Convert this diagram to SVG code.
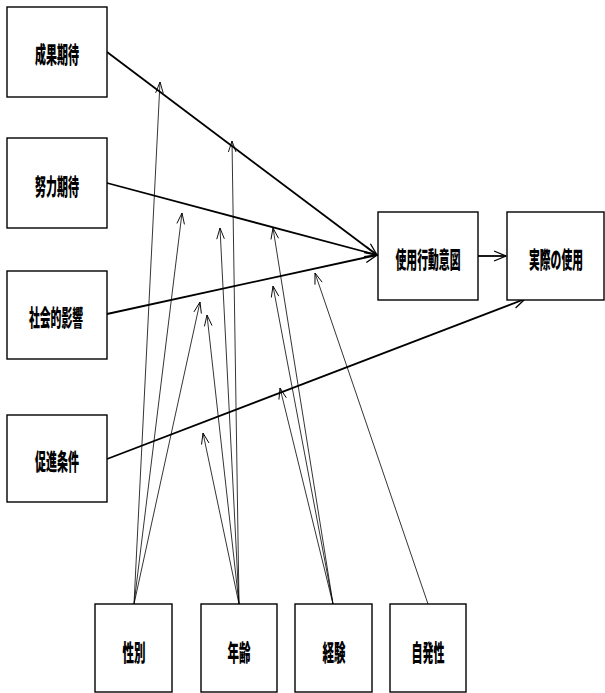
<svg xmlns="http://www.w3.org/2000/svg" width="605" height="693" viewBox="0 0 605 693">
<style>
.box{fill:#fff;stroke:#000;stroke-width:1.4}
.lbl{font-family:"Noto Sans CJK JP","Noto Sans CJK SC",sans-serif;font-weight:900;font-size:23px;fill:#000;text-anchor:middle}
.main{stroke:#000;stroke-width:1.8;fill:none}
.mod{stroke:#000;stroke-width:0.8;fill:none}
</style>
<defs>
<marker id="ah" markerUnits="userSpaceOnUse" viewBox="-14 -7 16 14" markerWidth="16" markerHeight="14" refX="0" refY="0" orient="auto" overflow="visible">
<path d="M-12,-5 L0,0 L-12,5" fill="none" stroke="#000" stroke-width="1.3"/>
</marker>
<marker id="ahs" markerUnits="userSpaceOnUse" viewBox="-12 -6 14 12" markerWidth="14" markerHeight="12" refX="0" refY="0" orient="auto" overflow="visible">
<path d="M-11,-3.8 L0,0 L-11,3.8" fill="none" stroke="#000" stroke-width="0.9"/>
</marker>
</defs>
<rect width="605" height="693" fill="#fff"/>
<g id="connectors">
<line class="main" x1="107" y1="52" x2="377" y2="255" marker-end="url(#ah)"/>
<line class="main" x1="107" y1="183" x2="377" y2="255" marker-end="url(#ah)"/>
<line class="main" x1="107" y1="314" x2="377" y2="255" marker-end="url(#ah)"/>
<line class="main" x1="107" y1="459" x2="525" y2="299" marker-end="url(#ah)"/>
<line class="main" x1="478" y1="256" x2="506" y2="256" marker-end="url(#ah)"/>
<line class="mod" x1="134" y1="604" x2="160" y2="82" marker-end="url(#ahs)"/>
<line class="mod" x1="134" y1="604" x2="182" y2="213" marker-end="url(#ahs)"/>
<line class="mod" x1="134" y1="604" x2="200" y2="302" marker-end="url(#ahs)"/>
<line class="mod" x1="239" y1="604" x2="232" y2="141" marker-end="url(#ahs)"/>
<line class="mod" x1="239" y1="604" x2="220" y2="228" marker-end="url(#ahs)"/>
<line class="mod" x1="239" y1="604" x2="207" y2="315" marker-end="url(#ahs)"/>
<line class="mod" x1="239" y1="604" x2="203" y2="433" marker-end="url(#ahs)"/>
<line class="mod" x1="333" y1="604" x2="273" y2="228" marker-end="url(#ahs)"/>
<line class="mod" x1="333" y1="604" x2="273" y2="286" marker-end="url(#ahs)"/>
<line class="mod" x1="333" y1="604" x2="280" y2="388" marker-end="url(#ahs)"/>
<line class="mod" x1="428" y1="604" x2="315" y2="273" marker-end="url(#ahs)"/>
</g>
<g id="n-seika"><rect class="box" x="7" y="7" width="100" height="90"/><text class="lbl" transform="translate(57,63) scale(0.478,1)">成果期待</text></g>
<g id="n-doryoku"><rect class="box" x="7" y="138" width="100" height="90"/><text class="lbl" transform="translate(57,195) scale(0.478,1)">努力期待</text></g>
<g id="n-shakai"><rect class="box" x="7" y="271" width="100" height="88"/><text class="lbl" transform="translate(56,326) scale(0.47,1)">社会的影響</text></g>
<g id="n-sokushin"><rect class="box" x="7" y="415" width="100" height="87"/><text class="lbl" transform="translate(57,470) scale(0.478,1)">促進条件</text></g>
<g id="n-ito"><rect class="box" x="378" y="212" width="100" height="88"/><text class="lbl" transform="translate(428,268) scale(0.471,1)">使用行動意図</text></g>
<g id="n-jissai"><rect class="box" x="507" y="212" width="97" height="88"/><text class="lbl" transform="translate(556,268) scale(0.47,1)">実際の使用</text></g>
<g id="n-seibetsu"><rect class="box" x="95" y="604" width="77" height="88"/><text class="lbl" transform="translate(134,661) scale(0.5,1)">性別</text></g>
<g id="n-nenrei"><rect class="box" x="201" y="604" width="76" height="88"/><text class="lbl" transform="translate(239,661) scale(0.5,1)">年齢</text></g>
<g id="n-keiken"><rect class="box" x="295" y="604" width="77" height="88"/><text class="lbl" transform="translate(334,661) scale(0.5,1)">経験</text></g>
<g id="n-jihatsu"><rect class="box" x="390" y="604" width="76" height="88"/><text class="lbl" transform="translate(428,661) scale(0.478,1)">自発性</text></g>
</svg>
